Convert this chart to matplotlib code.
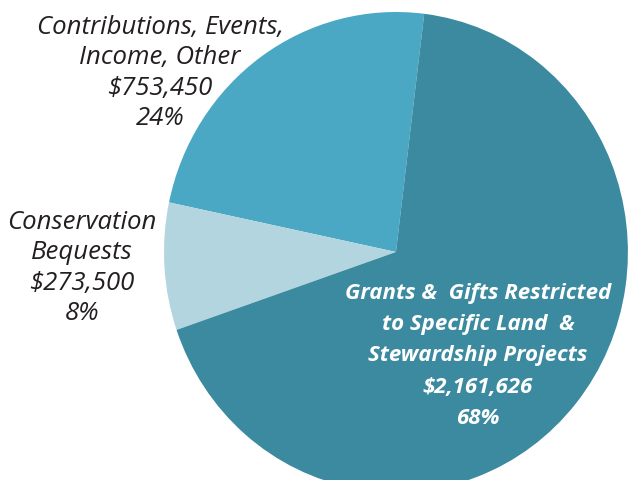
import matplotlib.pyplot as plt

# Revenue sources
labels = ["Contributions, Events,\nIncome, Other",
          "Conservation\nBequests",
          "Grants &  Gifts Restricted\nto Specific Land  &\nStewardship Projects"]
values = [753450, 273500, 2161626]
pcts = [24, 8, 68]
colors = ["#4aa8c4", "#b3d5e0", "#3b8a9f"]

fig = plt.figure(figsize=(6.3, 4.8), dpi=100)
ax = fig.add_axes([0, 0, 1, 1])
ax.pie(values, colors=colors, startangle=83, counterclock=True,
       radius=1, wedgeprops=dict(linewidth=0))
# pie in the picture is a little taller than wide
ax.set_aspect("auto")
ax.set_xlim(-1.707, 1.009)
ax.set_ylim(-0.95, 1.05)
ax.axis("off")

def label_text(i):
    return f"{labels[i]}\n${values[i]:,}\n{pcts[i]}%"

# label positions in axes fraction
ax.text(160 / 630, 1 - 73 / 480, label_text(0), transform=ax.transAxes,
        ha="center", va="center", ma="center", fontsize=18.5,
        style="italic", family="Open Sans", color="#231f20", linespacing=1.27)
ax.text(82 / 630, 1 - 268 / 480, label_text(1), transform=ax.transAxes,
        ha="center", va="center", ma="center", fontsize=18.5,
        style="italic", family="Open Sans", color="#231f20", linespacing=1.27)
ax.text(478 / 630, 1 - 356 / 480, label_text(2), transform=ax.transAxes,
        ha="center", va="center", ma="center", fontsize=16,
        style="italic", weight="bold", family="Open Sans", color="white",
        linespacing=1.64)

fig.savefig("out.png", dpi=100)
